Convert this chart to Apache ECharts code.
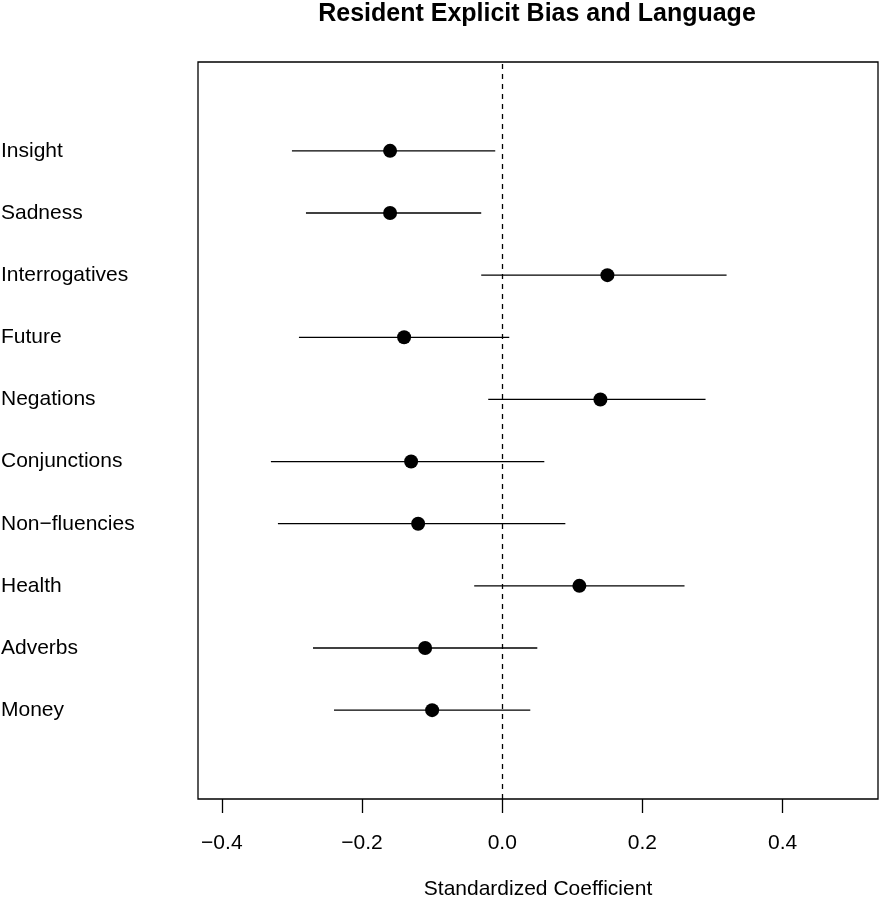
<!DOCTYPE html>
<html>
<head>
<meta charset="utf-8">
<script src="https://cdn.jsdelivr.net/npm/echarts@6/dist/echarts.min.js"></script>
<style>html,body{margin:0;padding:0;background:#fff;}#chart{width:879px;height:900px;}</style>
</head>
<body>
<div id="chart"></div>
<script>
// Categories from bottom (y=1) to top (y=10)
var categories = ['Money','Adverbs','Health','Non\u2212fluencies','Conjunctions','Negations','Future','Interrogatives','Sadness','Insight'];
var estimates  = [-0.10, -0.11, 0.11, -0.12, -0.13, 0.14, -0.14, 0.15, -0.16, -0.16];
var lowerCI    = [-0.24, -0.27, -0.04, -0.32, -0.33, -0.02, -0.29, -0.03, -0.28, -0.30];
var upperCI    = [0.04, 0.05, 0.26, 0.09, 0.06, 0.29, 0.01, 0.32, -0.03, -0.01];
var xTicks = [-0.4, -0.2, 0.0, 0.2, 0.4];
var yPos = [1,2,3,4,5,6,7,8,9,10];

var font = 'Liberation Sans, Arial, Helvetica, sans-serif';
var chart = echarts.init(document.getElementById('chart'), null, {renderer:'canvas'});

var ciData = yPos.map(function(y,i){ return [lowerCI[i], upperCI[i], y]; });
var ptData = yPos.map(function(y,i){ return [estimates[i], y]; });

chart.setOption({
  animation: false,
  backgroundColor: '#fff',
  title: {
    text: 'Resident Explicit Bias and Language',
    left: 532, top: -3, textAlign: 'center',
    textStyle: {fontFamily: font, fontWeight: 'bold', fontSize: 25, color: '#000'}
  },
  grid: {left: 198, right: 1, top: 62, bottom: 101, show: true, borderColor: '#000', borderWidth: 1.3, backgroundColor: 'transparent', outerBoundsMode: 'none', containLabel: false},
  xAxis: {
    type: 'value', min: -0.434, max: 0.536,
    axisLine: {show: false, onZero: false},
    splitLine: {show: false},
    axisTick: {show: true, inside: false, length: 14, customValues: xTicks, lineStyle: {color: '#000', width: 1.3}},
    axisLabel: {customValues: xTicks, margin: 34, fontFamily: font, fontSize: 21, color: '#000',
      formatter: function(v){ var s = Math.abs(v).toFixed(1); return (v < -1e-9 ? '\u2212' : '') + s; }},
    name: 'Standardized Coefficient', nameLocation: 'middle', nameGap: 80,
    nameTextStyle: {fontFamily: font, fontSize: 21, color: '#000'}
  },
  yAxis: {
    type: 'value', min: -0.43, max: 11.43,
    axisLine: {show: false, onZero: false},
    splitLine: {show: false},
    axisTick: {show: false},
    axisLabel: {customValues: yPos, align: 'left', margin: 197, fontFamily: font, fontSize: 21, color: '#000',
      formatter: function(v){ return categories[Math.round(v)-1] || ''; }}
  },
  series: [
    {
      type: 'custom',
      data: ciData,
      encode: {x: [0,1], y: 2},
      renderItem: function(params, api){
        var p1 = api.coord([api.value(0), api.value(2)]);
        var p2 = api.coord([api.value(1), api.value(2)]);
        return {type: 'line', shape: {x1: p1[0], y1: p1[1], x2: p2[0], y2: p2[1]}, style: {stroke: '#000', lineWidth: 1.3}};
      },
      markLine: {
        silent: true, symbol: 'none', label: {show: false},
        lineStyle: {type: [5,5], color: '#000', width: 1.3},
        data: [{xAxis: 0}]
      },
      z: 2
    },
    {
      type: 'scatter',
      data: ptData,
      symbol: 'circle', symbolSize: 14,
      itemStyle: {color: '#000', opacity: 1},
      z: 3
    }
  ]
});
</script>
</body>
</html>
